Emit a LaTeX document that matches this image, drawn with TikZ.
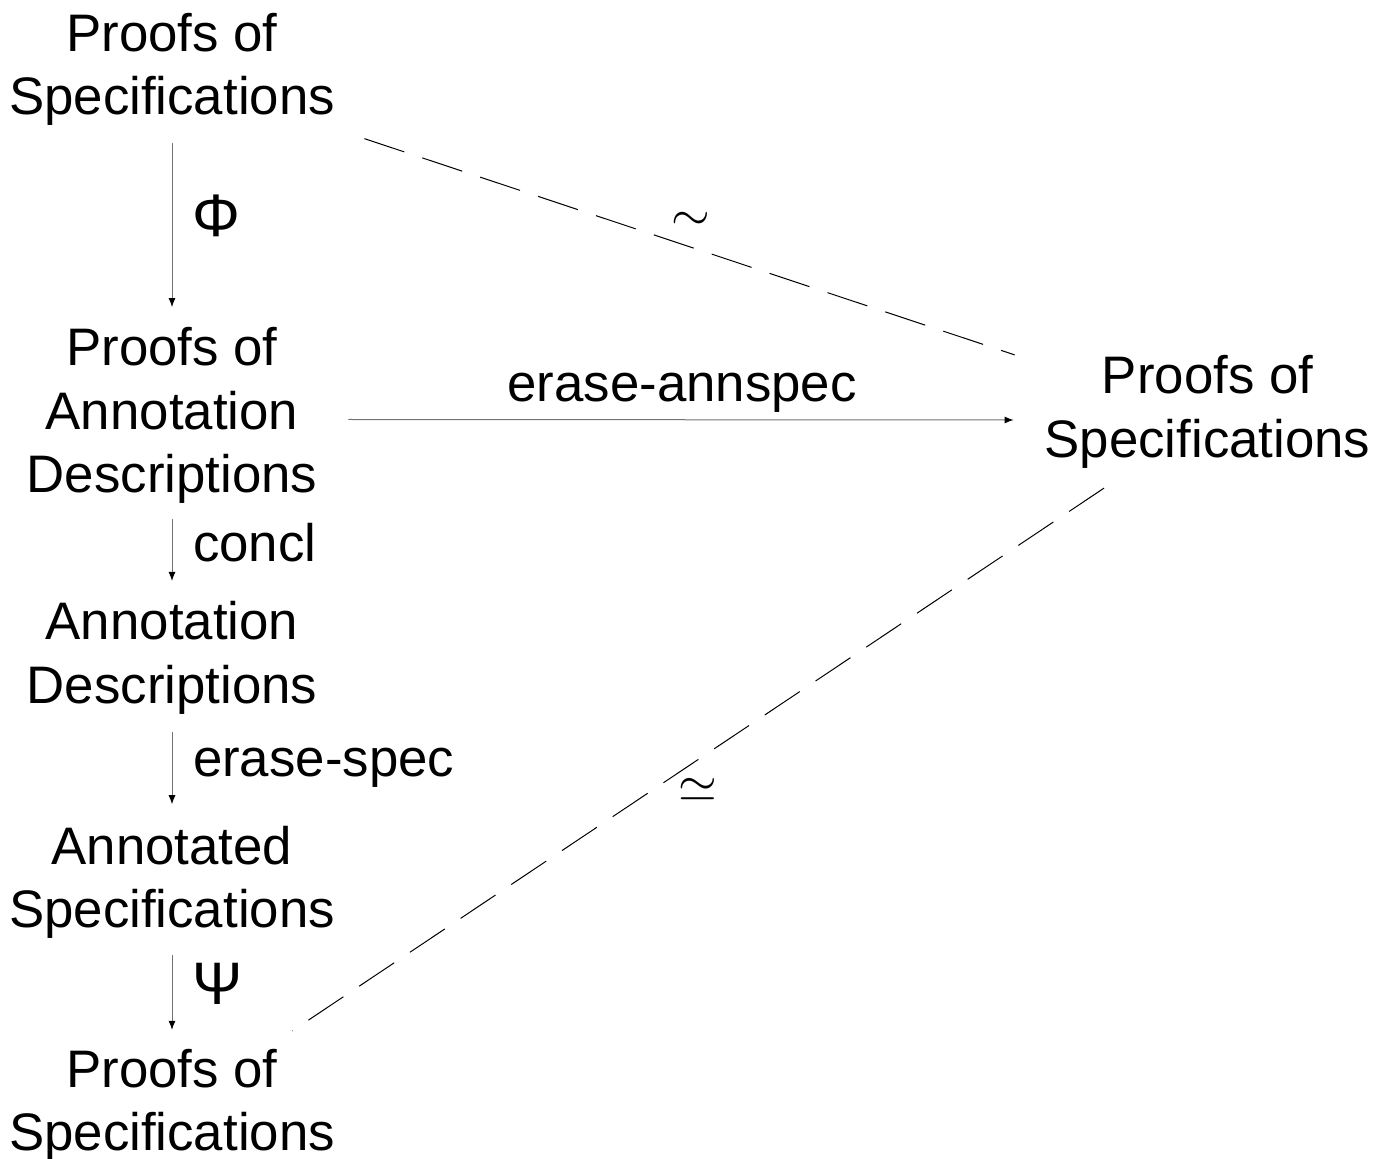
\documentclass[tikz,border=0pt]{standalone}
\usepackage{fontspec}
\setmainfont{Liberation Sans}
\usetikzlibrary{calc,arrows.meta}
\begin{document}
\begin{tikzpicture}[x=0.5pt,y=-0.5pt,
  lbl/.style={inner sep=0pt,outer sep=0pt,align=center,font=\fontsize{26.4}{31.75}\selectfont},
  greek/.style={inner sep=0pt,font=\fontsize{30}{34}\selectfont},
  arr/.style={draw=black!55,line width=0.5pt,-{Latex[black,length=4.5pt,width=3.5pt]}},
  dsh/.style={draw=black,line width=0.5pt,dash pattern=on 21pt off 9.5pt}]
\useasboundingbox (0,0) rectangle (1385,1159);
\node[lbl] (n1) at (172,69.3) {Proofs of\\Specifications};
\node[lbl] (n2) at (172,415.8) {Proofs of\\Annotation\\Descriptions};
\node[lbl] (n3) at (172,657.8) {Annotation\\Descriptions};
\node[lbl] (n4) at (172,882.4) {Annotated\\Specifications};
\node[lbl] (n5) at (172,1105.3) {Proofs of\\Specifications};
\node[lbl] (r) at (1207.5,411.8) {Proofs of\\Specifications};
% labels
\node[greek] (phi) at (216.5,215.5) {Φ};
\node[greek] (psi) at (218,984) {Ψ};
\node[lbl,anchor=base west] (concl) at (193,561) {concl};
\node[lbl,anchor=base west] (espec) at (193,776) {erase-spec};
\node[lbl,anchor=base] (eann) at (682,402) {erase-annspec};
\node[inner sep=0pt,font=\fontsize{28}{32}\selectfont] (sim) at (691,221.5) {$\sim$};
\node[inner sep=0pt,font=\fontsize{28}{32}\selectfont] (simeq) at (698,790) {$\simeq$};
% arrows
\draw[arr] ($(n1.south)+(0,17)$) -- ($(n2.north)+(0,-20.6)$);
\draw[arr] ($(n2.south)+(0,15)$) -- ($(n3.north)+(0,-20.5)$);
\draw[arr] ($(n3.south)+(0,18)$) -- ($(n4.north)+(0,-21.8)$);
\draw[arr] ($(n4.south)+(0,16)$) -- ($(n5.north)+(0,-19.1)$);
\draw[arr] ($(n2.east)+(31,3.7)$) -- ($(r.west)+(-31,8.2)$);
% dashed
\draw[dsh] ($(n1.south east)+(29.5,13)$) -- ($(r.north west)+(-30,-0.6)$);
\draw[dsh] ($(r.south)+(-103.5,20)$) -- ($(n5.north east)+(-42.5,-18.1)$);
\end{tikzpicture}
\end{document}
